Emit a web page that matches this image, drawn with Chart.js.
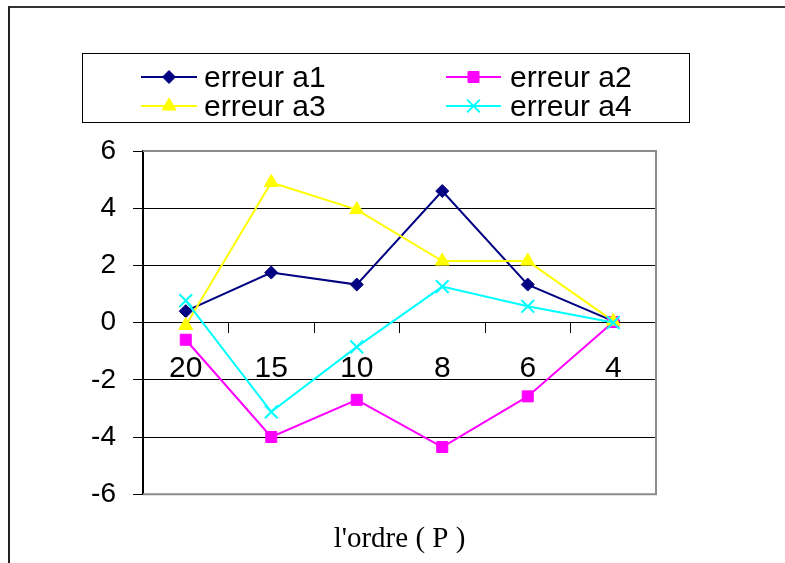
<!DOCTYPE html>
<html>
<head>
<meta charset="utf-8">
<script src="https://cdn.jsdelivr.net/npm/chart.js@4/dist/chart.umd.min.js"></script>
<style>
  html, body { margin: 0; padding: 0; background: #fff; }
  #wrap { position: relative; width: 785px; height: 563px; overflow: hidden; }
  #frame { position: absolute; left: 8px; top: 6px; right: -10px; bottom: -10px;
           border-left: 2px solid #222; border-top: 2px solid #333; }
  canvas { position: absolute; left: 0; top: 0; }
</style>
</head>
<body>
<div id="wrap">
  <div id="frame"></div>
  <canvas id="c" width="785" height="563"></canvas>
</div>
<script>
// Model order P on the x axis
const orders = ['20', '15', '10', '8', '6', '4'];

// Estimation error of each coefficient
const erreurA1 = [0.4, 1.75, 1.33, 4.6, 1.33, 0.05];
const erreurA2 = [-0.6, -4.0, -2.7, -4.35, -2.58, 0.02];
const erreurA3 = [-0.1, 4.9, 3.95, 2.15, 2.15, 0.05];
const erreurA4 = [0.77, -3.12, -0.85, 1.26, 0.57, 0];

const seriesNames = ['erreur a1', 'erreur a2', 'erreur a3', 'erreur a4'];
const axisTitle = "l'ordre ( P )";
const yMin = -6, yMax = 6, yStep = 2;

const SANS = "'Liberation Sans', Arial, sans-serif";
const SERIF = "'Liberation Serif', 'Times New Roman', serif";

function series(label, data, color, style, radius, order) {
  return {
    label, data, order,
    borderColor: color, backgroundColor: color,
    pointBackgroundColor: color, pointBorderColor: color,
    borderWidth: 2, pointBorderWidth: style === 'crossRot' ? 2 : 1,
    pointStyle: style, pointRadius: radius, pointHoverRadius: radius,
    tension: 0, fill: false, clip: false
  };
}

// Draws a marker shape for the legend sample
function marker(ctx, ds, x, y) {
  const opts = {
    pointStyle: ds.pointStyle, radius: ds.pointRadius, rotation: 0,
    borderWidth: ds.pointBorderWidth
  };
  ctx.save();
  ctx.fillStyle = ds.pointBackgroundColor;
  ctx.strokeStyle = ds.pointBorderColor;
  ctx.lineWidth = ds.pointBorderWidth;
  Chart.helpers.drawPoint(ctx, opts, x, y);
  ctx.restore();
}

// Boxed two-column legend with line + marker samples
const boxedLegend = {
  id: 'boxedLegend',
  afterDraw(chart) {
    const ctx = chart.ctx;
    const ds = chart.data.datasets;
    ctx.save();
    ctx.strokeStyle = '#000';
    ctx.lineWidth = 1;
    ctx.strokeRect(82.5, 53.5, 607, 69);
    const cols = [{ x0: 141, x1: 197, tx: 204 }, { x0: 446, x1: 501, tx: 510 }];
    const rows = [{ y: 77, base: 87 }, { y: 106, base: 116 }];
    ds.forEach((d, i) => {
      const c = cols[i % 2], r = rows[Math.floor(i / 2)];
      ctx.strokeStyle = d.borderColor;
      ctx.lineWidth = 2;
      ctx.beginPath();
      ctx.moveTo(c.x0, r.y);
      ctx.lineTo(c.x1, r.y);
      ctx.stroke();
      marker(ctx, d, (c.x0 + c.x1) / 2, r.y);
      ctx.fillStyle = '#000';
      ctx.font = '30px ' + SANS;
      ctx.textBaseline = 'alphabetic';
      ctx.textAlign = 'left';
      ctx.fillText(d.label, c.tx, r.base);
    });
    ctx.restore();
  }
};

// Grey frame on top, right and bottom of the plot area
const plotFrame = {
  id: 'plotFrame',
  beforeDatasetsDraw(chart) {
    const { ctx, chartArea: a } = chart;
    ctx.save();
    ctx.strokeStyle = '#8c8c8c';
    ctx.lineWidth = 2;
    ctx.beginPath();
    ctx.moveTo(a.left, a.top);
    ctx.lineTo(a.right, a.top);
    ctx.lineTo(a.right, a.bottom);
    ctx.lineTo(a.left, a.bottom);
    ctx.stroke();
    ctx.restore();
  }
};

new Chart(document.getElementById('c'), {
  type: 'line',
  data: {
    labels: orders,
    datasets: [
      series(seriesNames[0], erreurA1, '#000080', 'rectRot', 6.5, 4),
      series(seriesNames[1], erreurA2, '#ff00ff', 'rect', 7.8, 3),
      series(seriesNames[2], erreurA3, '#ffff00', 'triangle', 8, 2),
      series(seriesNames[3], erreurA4, '#00ffff', 'crossRot', 9, 1)
    ]
  },
  options: {
    responsive: false,
    animation: false,
    events: [],
    layout: { padding: { left: 0, top: 151, right: 129, bottom: 6 } },
    plugins: {
      legend: { display: false },
      tooltip: { enabled: false },
      title: {
        display: true,
        text: axisTitle,
        position: 'bottom',
        fullSize: false,
        color: '#000',
        font: { family: SERIF, size: 29, weight: 'normal' },
        padding: { top: 28, bottom: 0 }
      }
    },
    scales: {
      x: {
        type: 'category',
        position: { y: 0 },
        offset: true,
        grid: {
          offset: true,
          drawOnChartArea: false,
          drawTicks: true,
          tickLength: 10,
          color: '#000',
          lineWidth: 1
        },
        border: { display: true, color: '#000', width: 1 },
        ticks: {
          color: '#000',
          padding: 18,
          maxRotation: 0,
          autoSkip: false,
          font: { family: SANS, size: 30 }
        }
      },
      y: {
        min: yMin,
        max: yMax,
        afterFit(scale) { scale.width = 143; },
        grid: { color: '#000', lineWidth: 1, tickLength: 10, drawTicks: true },
        border: { display: true, color: '#000', width: 2 },
        ticks: {
          stepSize: yStep,
          color: '#000',
          padding: 17,
          font: { family: SANS, size: 28 }
        }
      }
    }
  },
  plugins: [plotFrame, boxedLegend]
});
</script>
</body>
</html>
